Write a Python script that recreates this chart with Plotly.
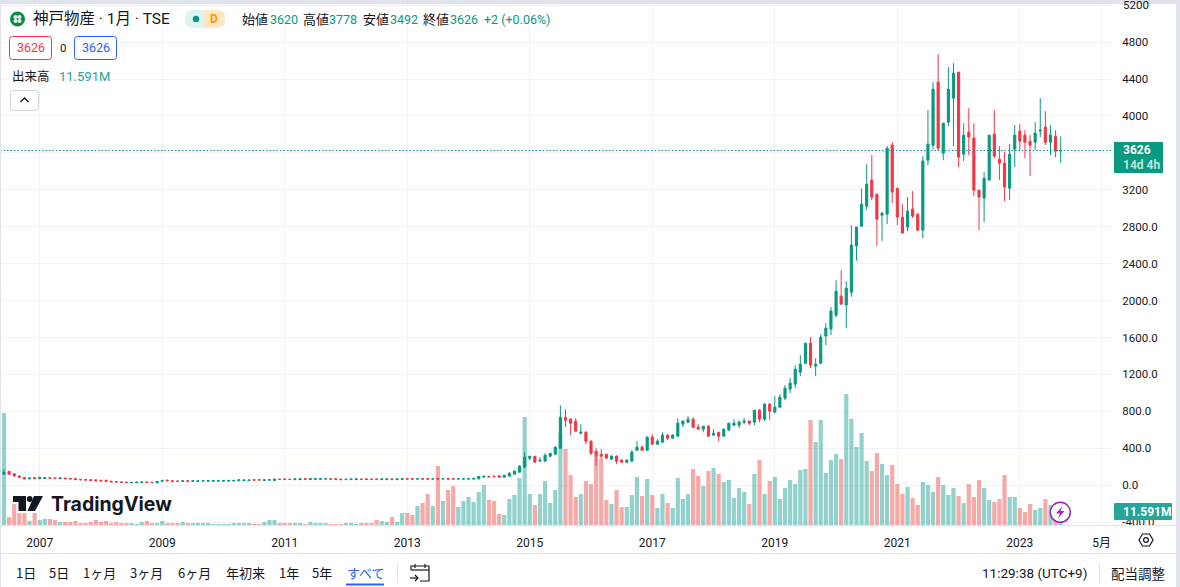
import plotly.graph_objects as go

opens = [118, 150, 125, 100, 85, 68, 82, 70, 72, 82,
         78, 70, 78, 72, 72, 64, 62, 60, 58, 54,
         54, 44, 40, 36, 34, 26, 26, 28, 36, 32,
         25, 42, 54, 48, 46, 42, 48, 42, 42, 44,
         44, 44, 44, 44, 44, 46, 48, 50, 50, 60,
         60, 52, 55, 50, 66, 68, 66, 60, 60, 70,
         62, 64, 64, 66, 70, 70, 66, 60, 60, 60,
         68, 68, 68, 68, 60, 60, 68, 60, 62, 70,
         70, 66, 70, 70, 66, 72, 66, 72, 70, 66,
         66, 66, 66, 68, 88, 96, 98, 100, 87, 98,
         119, 141, 195, 292, 314, 260, 260, 314, 336, 401,
         736, 715, 693, 563, 574, 476, 368, 336, 336, 281,
         314, 271, 249, 260, 379, 412, 379, 520, 444, 466,
         542, 509, 531, 661, 683, 715, 628, 607, 639, 542,
         574, 531, 596, 650, 650, 683, 694, 683, 813, 715,
         878, 791, 845, 943, 1041, 1095, 1225, 1322, 1539, 1290,
         1322, 1615, 1691, 1842, 2048, 1951, 2091, 2590, 2806, 3023,
         3305, 3153, 2925, 2936, 3684, 3218, 2904, 2796, 2991, 2936,
         2763, 3521, 3684, 4366, 3597, 3933, 4193, 4475, 3586, 3825,
         3760, 3196, 3110, 3305, 3803, 3532, 3489, 3218, 3641, 3836,
         3792, 3727, 3716, 3836, 3879, 3716, 3781, 3620]
closes = [140, 118, 100, 85, 68, 78, 70, 85, 82, 76,
          72, 78, 70, 68, 60, 58, 56, 52, 48, 46,
          42, 36, 34, 30, 28, 30, 32, 34, 30, 28,
          42, 52, 48, 42, 42, 48, 42, 48, 48, 50,
          50, 50, 48, 50, 52, 52, 58, 56, 56, 55,
          56, 58, 60, 66, 62, 64, 62, 68, 70, 64,
          72, 72, 70, 70, 66, 64, 60, 64, 66, 68,
          62, 62, 62, 62, 68, 68, 62, 68, 70, 66,
          66, 70, 66, 66, 70, 66, 72, 66, 66, 70,
          70, 70, 72, 96, 96, 90, 92, 87, 108, 130,
          152, 206, 303, 314, 249, 271, 325, 347, 411, 736,
          704, 671, 585, 574, 476, 346, 325, 314, 292, 314,
          260, 249, 271, 357, 412, 379, 520, 444, 477, 542,
          509, 542, 672, 694, 715, 628, 607, 639, 531, 563,
          531, 607, 672, 672, 683, 694, 672, 813, 715, 878,
          802, 845, 954, 1051, 1106, 1257, 1311, 1539, 1301, 1311,
          1604, 1701, 1886, 2102, 1961, 2135, 2600, 2796, 3045, 3261,
          3121, 2882, 2947, 3651, 3175, 2904, 2731, 2969, 2915, 2763,
          3511, 3695, 4290, 3651, 3922, 4290, 4464, 3554, 3792, 3771,
          3196, 3121, 3326, 3792, 3565, 3489, 3229, 3586, 3792, 3727,
          3716, 3684, 3814, 3846, 3716, 3792, 3619, 3626]
highs = [175, 155, 130, 104, 88, 82, 85, 90, 86, 86,
         82, 90, 80, 76, 75, 66, 64, 62, 60, 56,
         56, 46, 42, 40, 36, 34, 36, 38, 38, 34,
         46, 56, 62, 50, 48, 56, 50, 54, 52, 54,
         56, 56, 52, 54, 56, 56, 60, 60, 60, 62,
         62, 62, 64, 70, 68, 70, 68, 76, 74, 72,
         76, 76, 74, 74, 72, 72, 68, 72, 70, 72,
         70, 76, 70, 70, 72, 72, 70, 72, 78, 72,
         72, 74, 72, 72, 74, 80, 78, 80, 72, 74,
         74, 74, 80, 98, 105, 100, 102, 108, 108, 141,
         162, 217, 357, 314, 314, 303, 347, 347, 422, 866,
         823, 726, 726, 661, 585, 487, 401, 390, 336, 325,
         325, 281, 281, 379, 477, 433, 531, 553, 498, 574,
         553, 553, 726, 704, 748, 737, 661, 639, 650, 607,
         574, 607, 672, 715, 704, 726, 704, 813, 824, 888,
         888, 964, 986, 1083, 1160, 1300, 1409, 1539, 1604, 1376,
         1636, 1756, 1929, 2221, 2330, 2211, 2817, 2796, 3214, 3478,
         3576, 3153, 2958, 3673, 3716, 3218, 3045, 3121, 3186, 2947,
         3565, 4063, 4366, 4670, 3922, 4529, 4572, 4475, 3922, 4085,
         3922, 3196, 3391, 3792, 4063, 3673, 3608, 3695, 3901, 3911,
         3846, 3792, 3933, 4193, 4052, 3901, 3846, 3778]
lows = [115, 115, 96, 82, 65, 66, 68, 68, 70, 74,
        70, 68, 68, 64, 58, 56, 54, 50, 46, 44,
        40, 34, 32, 28, 26, 24, 24, 26, 28, 26,
        23, 40, 46, 40, 40, 40, 40, 40, 40, 42,
        42, 42, 42, 42, 42, 44, 46, 48, 48, 52,
        54, 50, 53, 47, 60, 62, 60, 58, 58, 62,
        60, 62, 62, 64, 64, 62, 58, 58, 58, 58,
        60, 60, 60, 60, 58, 58, 60, 58, 60, 64,
        64, 64, 64, 64, 64, 64, 64, 64, 64, 64,
        64, 64, 64, 66, 86, 88, 90, 85, 87, 98,
        119, 141, 195, 271, 249, 260, 260, 303, 336, 401,
        628, 542, 585, 552, 444, 325, 206, 281, 292, 281,
        227, 249, 238, 260, 379, 379, 379, 444, 444, 466,
        488, 509, 531, 628, 672, 618, 607, 574, 531, 542,
        477, 531, 596, 639, 618, 661, 650, 650, 683, 694,
        704, 791, 845, 921, 997, 1051, 1181, 1311, 1268, 1181,
        1311, 1517, 1626, 1820, 1961, 1701, 2041, 2431, 2806, 2980,
        3088, 2590, 2644, 2828, 3056, 2817, 2731, 2752, 2893, 2752,
        2676, 3467, 3637, 3619, 3521, 3890, 3673, 3446, 3511, 3576,
        3131, 2763, 2850, 3305, 3543, 3305, 3077, 3088, 3446, 3630,
        3543, 3348, 3630, 3771, 3684, 3576, 3554, 3492]
volumes = [112, 8, 21, 12, 12, 4, 12, 5, 6, 6,
           5, 3, 3, 3, 4, 2, 2, 3, 5, 3,
           4, 2, 3, 2, 2, 2, 1, 3, 4, 2,
           2, 4, 2, 2, 2, 3, 2, 2, 2, 2,
           2, 1, 1, 1, 1, 2, 2, 2, 2, 1,
           1, 3, 5, 5, 2, 2, 2, 2, 2, 1,
           3, 2, 2, 2, 1, 1, 1, 2, 2, 1,
           2, 2, 2, 5, 4, 3, 8, 3, 12, 12,
           10, 19, 22, 31, 19, 59, 24, 35, 39, 18,
           24, 28, 23, 33, 40, 25, 24, 11, 10, 26,
           30, 47, 108, 31, 20, 31, 44, 22, 35, 92,
           76, 50, 28, 31, 44, 41, 70, 66, 25, 21,
           35, 18, 18, 30, 48, 29, 46, 30, 17, 31,
           22, 17, 47, 26, 31, 56, 49, 39, 54, 57,
           51, 43, 45, 27, 37, 33, 21, 51, 65, 31,
           44, 48, 26, 37, 45, 41, 55, 56, 105, 83,
           105, 52, 65, 71, 66, 131, 106, 78, 92, 64,
           54, 72, 61, 50, 60, 41, 31, 38, 27, 20,
           43, 40, 33, 48, 40, 30, 37, 29, 22, 41,
           28, 45, 37, 25, 23, 26, 50, 28, 28, 17,
           13, 21, 15, 17, 26, 20, 15, 11.591]

month_ticks = [7, 31, 55, 79, 103, 127, 151, 175, 199, 215]
month_labels = ["2007", "2009", "2011", "2013", "2015", "2017", "2019", "2021", "2023", "5月"]
price_ticks = [5200, 4800, 4400, 4000, 3600, 3200, 2800, 2400, 2000, 1600, 1200, 800, 400, 0, -400]
price_labels = ["", "4800", "4400", "4000", "", "3200", "2800.0", "2400.0", "2000.0",
                "1600.0", "1200.0", "800.0", "400.0", "0.0", "-400.0"]
range_labels = ["1日", "5日", "1ヶ月", "3ヶ月", "6ヶ月", "年初来", "1年", "5年", "すべて"]

UP = "#089981"
DOWN = "#f23645"
TEXT = "#131722"
BORDER = "#e0e3eb"
GRID = "#f0f3fa"
BLUE = "#2962ff"
CJK = "'Noto Sans CJK JP'"
LATIN = "Roboto, 'Noto Sans CJK JP'"

# plot area in screen pixels
PW = 1113
PH = 525


def px(x):
    return x / PW


def py(y):
    return 1 - y / PH


def label(fig, x, y, text, size=12, color=TEXT, anchor="left", family=LATIN):
    fig.add_annotation(x=px(x), y=py(y), xref="paper", yref="paper", xanchor=anchor, yanchor="middle",
                       showarrow=False, text=text, borderpad=0, font=dict(size=size, color=color, family=family))


def box(fig, x0, y0, x1, y1, fill, line=None, width=1):
    fig.add_shape(type="rect", xref="paper", yref="paper", x0=px(x0), x1=px(x1), y0=py(y0), y1=py(y1),
                  fillcolor=fill, line=dict(color=line, width=width if line else 0))


def circle(fig, cx, cy, r, fill, line=None, width=1):
    fig.add_shape(type="circle", xref="paper", yref="paper", x0=px(cx - r), x1=px(cx + r), y0=py(cy - r),
                  y1=py(cy + r), fillcolor=fill, line=dict(color=line, width=width if line else 0))


def path(fig, points, line=TEXT, width=1, fill="rgba(0,0,0,0)", closed=False):
    d = "M " + " L ".join(f"{px(x):.5f},{py(y):.5f}" for x, y in points)
    if closed:
        d += " Z"
    fig.add_shape(type="path", xref="paper", yref="paper", path=d, fillcolor=fill,
                  line=dict(color=line, width=width if line else 0))


def rounded(fig, x0, y0, x1, y1, r, fill, line=None, width=1):
    d = (f"M {px(x0 + r)},{py(y0)} L {px(x1 - r)},{py(y0)} Q {px(x1)},{py(y0)} {px(x1)},{py(y0 + r)} "
         f"L {px(x1)},{py(y1 - r)} Q {px(x1)},{py(y1)} {px(x1 - r)},{py(y1)} "
         f"L {px(x0 + r)},{py(y1)} Q {px(x0)},{py(y1)} {px(x0)},{py(y1 - r)} "
         f"L {px(x0)},{py(y0 + r)} Q {px(x0)},{py(y0)} {px(x0 + r)},{py(y0)} Z")
    fig.add_shape(type="path", xref="paper", yref="paper", path=d, fillcolor=fill,
                  line=dict(color=line, width=width if line else 0))


bars = list(range(len(opens)))
bar_colors = ["rgba(38,166,154,0.5)" if c >= o else "rgba(239,83,80,0.5)" for o, c in zip(opens, closes)]

fig = go.Figure()
fig.add_trace(go.Bar(x=bars, y=volumes, marker=dict(color=bar_colors, line=dict(width=0)), width=0.82,
                     yaxis="y", showlegend=False))
fig.add_trace(go.Candlestick(x=bars, open=opens, high=highs, low=lows, close=closes, yaxis="y2", whiskerwidth=0,
                             increasing=dict(line=dict(color=UP, width=1), fillcolor=UP),
                             decreasing=dict(line=dict(color=DOWN, width=1), fillcolor=DOWN),
                             showlegend=False))

fig.update_layout(
    width=1180, height=587, margin=dict(l=0, r=67, t=0, b=62), paper_bgcolor="white", plot_bgcolor="white",
    boxgap=0.4, showlegend=False, hovermode=False,
    xaxis=dict(range=[-0.778, 217.25], tickvals=month_ticks, ticktext=month_labels, showgrid=True, gridcolor=GRID,
               gridwidth=1, zeroline=False, showline=False, ticks="outside", ticklen=7, tickcolor="rgba(0,0,0,0)",
               tickfont=dict(size=12, color=TEXT, family=LATIN), tickangle=0, rangeslider=dict(visible=False)),
    yaxis=dict(range=[0, 525], visible=False, showgrid=False, zeroline=False),
    yaxis2=dict(range=[-431, 5256], overlaying="y", side="right", tickvals=price_ticks, ticktext=price_labels,
                showgrid=True, gridcolor=GRID, gridwidth=1, zeroline=False, showline=False, ticks="outside",
                ticklen=6, tickcolor="rgba(0,0,0,0)", tickfont=dict(size=11.5, color=TEXT, family=LATIN)),
)

# last price line
fig.add_shape(type="line", xref="paper", yref="y2", x0=0, x1=1, y0=closes[-1], y1=closes[-1],
              line=dict(color=UP, width=1, dash="1.5px,2px"))

# frame and separators
box(fig, 1113, 525, 1176, 533, "white")
box(fig, 0, 525, 1176, 526, BORDER)
box(fig, 0, 553, 1176, 554, BORDER)
box(fig, 0, 0, 1180, 4, BORDER)
box(fig, 1176, 0, 1180, 587, BORDER)
box(fig, 0, 0, 1, 587, BORDER)
box(fig, 397, 563, 398, 583, BORDER)
box(fig, 1099, 563, 1100, 583, BORDER)

# price and volume tags
label(fig, 1122, 5, "5200", 11.5, TEXT)
box(fig, 1114, 142, 1163, 173, UP)
label(fig, 1122, 150, "<b>3626</b>", 12, "white")
label(fig, 1122, 165, "<b>14d 4h</b>", 12, "#bfe6de")
rounded(fig, 1114, 503, 1172, 520, 1, "#26a69a")
label(fig, 1122, 512, "<b>11.591M</b>", 12, "white")

# header
circle(fig, 17.5, 19, 7.5, "#0a8a45")
for cx, cy in [(15.5, 17), (19.5, 17), (15.5, 21), (19.5, 21)]:
    circle(fig, cx, cy, 2.1, "#dfeee6")
label(fig, 32, 19, "神戸物産 · 1月 · TSE", 15.5, TEXT)
rounded(fig, 185, 10, 225, 28, 8, "#dff3ef")
rounded(fig, 203, 10, 225, 28, 8, "#ffe7c2")
box(fig, 205, 10, 212, 28, "#ffe7c2")
circle(fig, 196, 19, 3.2, UP)
label(fig, 213.5, 19, "<b>D</b>", 12, "#ff9800", "center")
for x, t in [(241, "始値"), (301.5, "高値"), (362, "安値"), (422, "終値")]:
    label(fig, x, 19, t, 13, TEXT)
for x, t in [(268.5, "3620"), (328, "3778"), (389, "3492"), (449, "3626"), (483, "+2 (+0.06%)")]:
    label(fig, x, 19, t, 12.5, UP)

rounded(fig, 9.5, 36.5, 51.5, 59.5, 3, "white", DOWN)
label(fig, 30.5, 48, "3626", 12.5, DOWN, "center")
label(fig, 63, 48, "0", 11.5, TEXT, "center")
rounded(fig, 74.5, 36.5, 116.5, 59.5, 3, "white", BLUE)
label(fig, 95.5, 48, "3626", 12.5, BLUE, "center")
label(fig, 10.5, 76, "出来高", 12.5, TEXT)
label(fig, 58, 76, "11.591M", 13, "#26a69a")
rounded(fig, 10.5, 90.5, 38.5, 110.5, 3, "white", "#d1d4dc")
path(fig, [(20.5, 102), (24.5, 98), (28.5, 102)], TEXT, 1.3)

# watermark
path(fig, [(13, 496), (26, 496), (26, 511), (18.5, 511), (18.5, 502), (13, 502)], None, 0, TEXT, True)
circle(fig, 29.7, 499, 2.9, TEXT)
path(fig, [(34, 496), (43, 496), (35, 511), (27.5, 511)], None, 0, TEXT, True)
label(fig, 50, 504, "<b>TradingView</b>", 19.5, TEXT, "left", "Inter")

# alert bolt
circle(fig, 1060.3, 512.3, 10, "white", "#9c27b0", 1.5)
path(fig, [(1062.5, 506), (1056, 513.5), (1060, 513.5), (1058, 518.5), (1064.5, 511), (1060.5, 511)],
     None, 0, "#9c27b0", True)

# gear
path(fig, [(1139, 540), (1142.5, 534), (1149.5, 534), (1153, 540), (1149.5, 546), (1142.5, 546)], TEXT, 1.2, closed=True)
circle(fig, 1146, 540, 2.4, "white", TEXT, 1.2)

# bottom bar
for x, t in zip([25.5, 58.5, 99, 146, 194, 245, 289, 322, 366], range_labels):
    label(fig, x, 572.5, t, 13, BLUE if t == "すべて" else TEXT, "center", CJK)
box(fig, 346, 583.5, 384, 585.5, BLUE)
path(fig, [(411, 570), (411, 566), (429, 566), (429, 581), (420, 581)], TEXT, 1.2)
path(fig, [(411, 570), (429, 570)], TEXT, 1.2)
path(fig, [(415, 564), (415, 568)], TEXT, 1.2)
path(fig, [(425, 564), (425, 568)], TEXT, 1.2)
path(fig, [(410, 578), (418, 578)], TEXT, 1.2)
path(fig, [(415, 575), (418, 578), (415, 581)], TEXT, 1.2)
label(fig, 1088, 572.5, "11:29:38 (UTC+9)", 13.5, TEXT, "right")
label(fig, 1138, 572.5, "配当調整", 13.5, TEXT, "center", CJK)

fig.write_html("out.html", config=dict(displayModeBar=False),
               post_script="document.body.style.margin='0';document.body.style.overflow='hidden';")
